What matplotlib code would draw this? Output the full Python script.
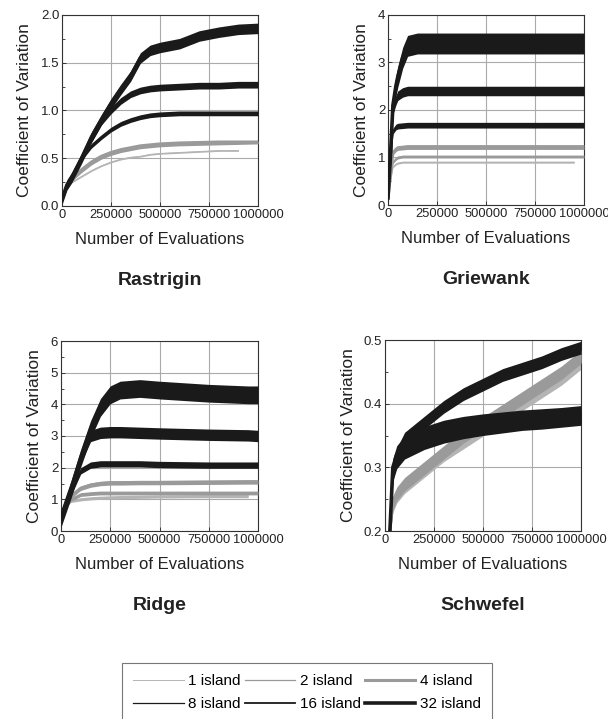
import numpy as np
import matplotlib
matplotlib.use("Agg")
import matplotlib.pyplot as plt
from matplotlib.ticker import AutoMinorLocator

plt.rcParams['font.family'] = ['Liberation Sans', 'DejaVu Sans']

# ---- data: (x, mean, half-width of the noise band) ----
labels = ['1 island', '2 island', '4 island', '8 island', '16 island', '32 island']

rastrigin_x = [0, 25000, 50000, 100000, 150000, 200000, 250000, 300000, 350000, 400000,
               450000, 500000, 600000, 700000, 800000, 900000, 1000000]
rastrigin_y = {
    '1 island': [0.07, 0.2, 0.25, 0.31, 0.37, 0.42, 0.46, 0.49, 0.51, 0.52, 0.54, 0.55, 0.56, 0.57, 0.58, 0.58, None],
    '2 island': [0.07, 0.21, 0.27, 0.36, 0.44, 0.5, 0.54, 0.57, 0.59, 0.61, 0.62, 0.63, 0.64, 0.645, 0.65, 0.655, 0.66],
    '4 island': [0.07, 0.21, 0.28, 0.38, 0.46, 0.52, 0.56, 0.59, 0.61, 0.63, 0.64, 0.65, 0.66, 0.665, 0.67, 0.67, 0.67],
    '8 island': [0.07, 0.22, 0.3, 0.5, 0.63, 0.72, 0.8, 0.86, 0.9, 0.93, 0.95, 0.96, 0.97, 0.97, 0.97, 0.97, 0.97],
    '16 island': [0.07, 0.22, 0.3, 0.5, 0.7, 0.88, 1.0, 1.1, 1.17, 1.21, 1.23, 1.24, 1.25, 1.26, 1.26, 1.27, 1.27],
    '32 island': [0.07, 0.22, 0.3, 0.5, 0.72, 0.9, 1.07, 1.22, 1.36, 1.55, 1.63, 1.66, 1.7, 1.78, 1.82, 1.85, 1.86],
}
rastrigin_s = [0.008, 0.01, 0.012, 0.025, 0.035, 0.055]

griewank_x = [0, 12000, 25000, 40000, 50000, 75000, 100000, 150000, 250000, 500000, 750000, 950000, 1000000]
griewank_y = {
    '1 island': [0.15, 0.5, 0.8, 0.86, 0.88, 0.9, 0.9, 0.9, 0.9, 0.9, 0.9, 0.9, None],
    '2 island': [0.15, 0.55, 0.9, 0.97, 1.0, 1.02, 1.02, 1.02, 1.02, 1.02, 1.02, 1.02, 1.02],
    '4 island': [0.15, 0.6, 1.1, 1.17, 1.2, 1.21, 1.22, 1.22, 1.22, 1.22, 1.22, 1.22, 1.22],
    '8 island': [0.15, 0.8, 1.55, 1.64, 1.66, 1.67, 1.68, 1.68, 1.68, 1.68, 1.68, 1.68, 1.68],
    '16 island': [0.15, 1.0, 2.0, 2.2, 2.3, 2.37, 2.4, 2.4, 2.4, 2.4, 2.4, 2.4, 2.4],
    '32 island': [0.15, 1.0, 2.1, 2.5, 2.7, 3.1, 3.35, 3.4, 3.4, 3.4, 3.4, 3.4, 3.4],
}
griewank_s = [0.02, 0.03, 0.05, 0.06, 0.1, 0.22]

ridge_x = [0, 25000, 50000, 100000, 150000, 200000, 250000, 300000, 400000, 500000, 750000, 950000, 1000000]
ridge_y = {
    '1 island': [0.4, 0.8, 0.95, 1.0, 1.03, 1.05, 1.06, 1.07, 1.08, 1.09, 1.1, 1.1, None],
    '2 island': [0.4, 0.8, 1.0, 1.15, 1.18, 1.2, 1.2, 1.2, 1.2, 1.2, 1.2, 1.2, 1.2],
    '4 island': [0.4, 0.85, 1.1, 1.35, 1.45, 1.5, 1.52, 1.52, 1.53, 1.53, 1.54, 1.55, 1.55],
    '8 island': [0.4, 0.85, 1.2, 1.9, 2.08, 2.12, 2.12, 2.12, 2.12, 2.1, 2.08, 2.08, 2.08],
    '16 island': [0.4, 0.85, 1.3, 2.3, 3.0, 3.1, 3.12, 3.12, 3.1, 3.08, 3.04, 3.02, 3.0],
    '32 island': [0.4, 0.85, 1.3, 2.3, 3.2, 3.9, 4.3, 4.45, 4.5, 4.45, 4.35, 4.3, 4.3],
}
ridge_s = [0.05, 0.06, 0.07, 0.1, 0.18, 0.28]

schwefel_x = [25000, 40000, 60000, 100000, 200000, 300000, 400000, 500000, 600000, 700000, 800000, 900000, 1000000]
schwefel_y = {
    '1 island': [0.2, 0.235, 0.25, 0.265, 0.29, 0.315, 0.335, 0.355, 0.375, 0.395, 0.415, 0.435, 0.46],
    '2 island': [0.2, 0.24, 0.255, 0.27, 0.295, 0.32, 0.345, 0.365, 0.385, 0.405, 0.425, 0.445, 0.47],
    '4 island': [0.2, 0.245, 0.26, 0.275, 0.3, 0.325, 0.35, 0.37, 0.39, 0.41, 0.43, 0.45, 0.475],
    '8 island': [0.2, 0.29, 0.32, 0.345, 0.37, 0.395, 0.415, 0.43, 0.445, 0.455, 0.465, 0.478, 0.488],
    '16 island': [0.2, 0.29, 0.31, 0.325, 0.34, 0.35, 0.357, 0.362, 0.366, 0.37, 0.372, 0.375, 0.378],
    '32 island': [0.2, 0.3, 0.32, 0.335, 0.35, 0.36, 0.366, 0.37, 0.373, 0.376, 0.378, 0.38, 0.383],
}
schwefel_s = [0.006, 0.007, 0.009, 0.01, 0.012, 0.014]

panels = [
    ('Rastrigin', rastrigin_x, rastrigin_y, rastrigin_s, (0, 2.0), [0.0, 0.5, 1.0, 1.5, 2.0], '%.1f'),
    ('Griewank', griewank_x, griewank_y, griewank_s, (0, 4), [0, 1, 2, 3, 4], '%d'),
    ('Ridge', ridge_x, ridge_y, ridge_s, (0, 6), [0, 1, 2, 3, 4, 5, 6], '%d'),
    ('Schwefel', schwefel_x, schwefel_y, schwefel_s, (0.2, 0.5), [0.2, 0.3, 0.4, 0.5], '%.1f'),
]

colors = ['#b4b4b4', '#9a9a9a', '#9a9a9a', '#1a1a1a', '#1a1a1a', '#1a1a1a']
widths = [0.7, 0.9, 2.2, 0.9, 1.3, 2.6]
xticks = [0, 250000, 500000, 750000, 1000000]

W, H = 608, 719
fig = plt.figure(figsize=(W / 100, H / 100), dpi=100)

boxes = [(62, 15, 258, 206), (388, 15, 584, 205), (61, 341, 258, 531), (385, 340, 581, 531)]

handles = []
for (name, xs, ys, spread, ylim, yticks, fmt), (l, t, r, b) in zip(panels, boxes):
    ax = fig.add_axes([l / W, 1 - b / H, (r - l) / W, (b - t) / H])
    for i, lab in enumerate(labels):
        vals = ys[lab]
        px = [x for x, v in zip(xs, vals) if v is not None]
        py = np.array([v for v in vals if v is not None])
        s = spread[i]
        ax.fill_between(px, py - s, py + s, color=colors[i], lw=0, zorder=2 + i)
        h, = ax.plot(px, py, color=colors[i], lw=widths[i], zorder=2 + i)
        if len(handles) < len(labels):
            handles.append(h)
    ax.set_xlim(0, 1000000)
    ax.set_ylim(*ylim)
    ax.set_xticks(xticks)
    ax.set_xticklabels([str(v) for v in xticks], fontsize=9.3)
    ax.set_yticks(yticks)
    ax.set_yticklabels([fmt % v for v in yticks], fontsize=9.5)
    ax.yaxis.set_minor_locator(AutoMinorLocator(2))
    ax.tick_params(direction='in', length=3, width=0.6, pad=2, colors='#222222')
    ax.tick_params(which='minor', direction='in', length=2, width=0.5)
    ax.grid(True, color='#aaaaaa', lw=0.8, zorder=1)
    for sp in ax.spines.values():
        sp.set_linewidth(0.8)
        sp.set_color('#333333')
    ax.set_xlabel('Number of Evaluations', fontsize=12, color='#222222', labelpad=8)
    ax.set_ylabel('Coefficient of Variation', fontsize=12.5, color='#222222', labelpad=6)
    ax.text(0.5, -74 / (b - t), name, transform=ax.transAxes, ha='center',
            va='center', fontsize=14, fontweight='bold', color='#222222')

# legend filled column by column, so reorder to read row by row
order = [0, 3, 1, 4, 2, 5]
leg = fig.legend([handles[k] for k in order], [labels[k] for k in order],
                 loc='upper left', ncol=3,
                 bbox_to_anchor=(122 / W, 1 - 663 / H, (492 - 122) / W, 0.0),
                 mode='expand', fontsize=11, frameon=True, fancybox=False,
                 edgecolor='#555555', handlelength=3.3, handletextpad=0.3,
                 columnspacing=1.2, borderaxespad=0.0, labelspacing=0.55,
                 borderpad=0.75)
leg.get_frame().set_linewidth(0.8)

fig.savefig('out.png', dpi=100)
